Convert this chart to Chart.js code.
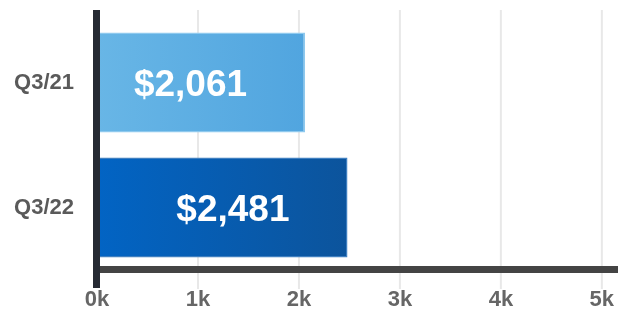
<!DOCTYPE html>
<html>
<head>
<meta charset="utf-8">
<script src="https://cdn.jsdelivr.net/npm/chart.js@4"></script>
<style>
  html, body { margin: 0; padding: 0; background: #fff; }
  #wrap { width: 618px; height: 316px; }
</style>
</head>
<body>
<div id="wrap"><canvas id="costChart" width="618" height="316"></canvas></div>
<script>
const quarters = ["Q3/21", "Q3/22"];
const amounts = [2061, 2481];
const tickValues = [0, 1000, 2000, 3000, 4000, 5000];

// left/right gradient stops per bar
const barColors = [
  ["#68b6e6", "#51a5df"],
  ["#0264c4", "#0c549c"]
];
const barBorders = ["#8ec9ee", "#3f7fc0"];

const FONT = "'Liberation Sans', Arial, sans-serif";

function barGradient(context) {
  const chart = context.chart;
  const area = chart.chartArea;
  if (!area) return barColors[context.dataIndex][0];
  const xs = chart.scales.x;
  const x0 = xs.getPixelForValue(0);
  const x1 = xs.getPixelForValue(amounts[context.dataIndex]);
  const g = chart.ctx.createLinearGradient(x0, 0, x1, 0);
  g.addColorStop(0, barColors[context.dataIndex][0]);
  g.addColorStop(1, barColors[context.dataIndex][1]);
  return g;
}

function noPadding(scale) {
  scale.paddingLeft = 0;
  scale.paddingRight = 0;
  scale.paddingTop = 0;
  scale.paddingBottom = 0;
}

// grid lines + thick axis lines
const axisPlugin = {
  id: "axisLines",
  beforeDatasetsDraw(chart) {
    const { ctx, chartArea } = chart;
    const xs = chart.scales.x;
    ctx.save();
    ctx.strokeStyle = "#e8e8e8";
    ctx.lineWidth = 2;
    tickValues.forEach(v => {
      if (v === 0) return;
      const x = xs.getPixelForValue(v);
      ctx.beginPath();
      ctx.moveTo(x, chartArea.top - 10);
      ctx.lineTo(x, chartArea.bottom + 19);
      ctx.stroke();
    });
    ctx.restore();
  },
  afterDatasetsDraw(chart) {
    const { ctx, chartArea } = chart;
    const x0 = chart.scales.x.getPixelForValue(0);
    ctx.save();
    // x axis
    ctx.fillStyle = "#444444";
    ctx.fillRect(x0, chartArea.bottom - 4, chartArea.right - x0, 7);
    // y axis
    ctx.fillStyle = "#262a33";
    ctx.fillRect(x0 - 4, chartArea.top - 10, 7, chartArea.bottom - chartArea.top + 28);
    ctx.restore();
  }
};

// value labels inside bars, anchored near the bar end
const labelPlugin = {
  id: "valueLabels",
  afterDatasetsDraw(chart) {
    const { ctx } = chart;
    const meta = chart.getDatasetMeta(0);
    ctx.save();
    ctx.fillStyle = "#ffffff";
    ctx.font = "bold 37px " + FONT;
    ctx.textAlign = "right";
    ctx.textBaseline = "middle";
    meta.data.forEach((bar, i) => {
      ctx.fillText("$" + amounts[i].toLocaleString("en-US"), bar.x - 58, bar.y + 3);
    });
    ctx.restore();
  }
};

chart = new Chart(document.getElementById("costChart"), {
  type: "bar",
  data: {
    labels: quarters,
    datasets: [{
      data: amounts,
      backgroundColor: barGradient,
      borderColor: barBorders,
      borderWidth: 1.5,
      borderSkipped: "left",
      barPercentage: 1,
      categoryPercentage: 0.8
    }]
  },
  options: {
    indexAxis: "y",
    responsive: false,
    animation: false,
    layout: { padding: { top: 20, right: 0, left: 0, bottom: 0 } },
    plugins: { legend: { display: false }, tooltip: { enabled: false } },
    scales: {
      x: {
        min: 0,
        max: 5160,
        grid: { display: false, drawTicks: false },
        border: { display: false },
        afterFit(scale) { scale.height = 46; noPadding(scale); },
        afterBuildTicks(scale) {
          scale.ticks = tickValues.map(v => ({ value: v }));
        },
        ticks: {
          padding: 17,
          color: "#666666",
          font: { family: FONT, size: 22, weight: "bold" },
          callback: v => (v / 1000) + "k"
        }
      },
      y: {
        grid: { display: false, drawTicks: false },
        border: { display: false },
        afterFit(scale) { scale.width = 97; noPadding(scale); },
        ticks: {
          padding: 23,
          color: "#5a5a5a",
          font: { family: FONT, size: 22, weight: "bold" }
        }
      }
    }
  },
  plugins: [axisPlugin, labelPlugin]
});
</script>
</body>
</html>
